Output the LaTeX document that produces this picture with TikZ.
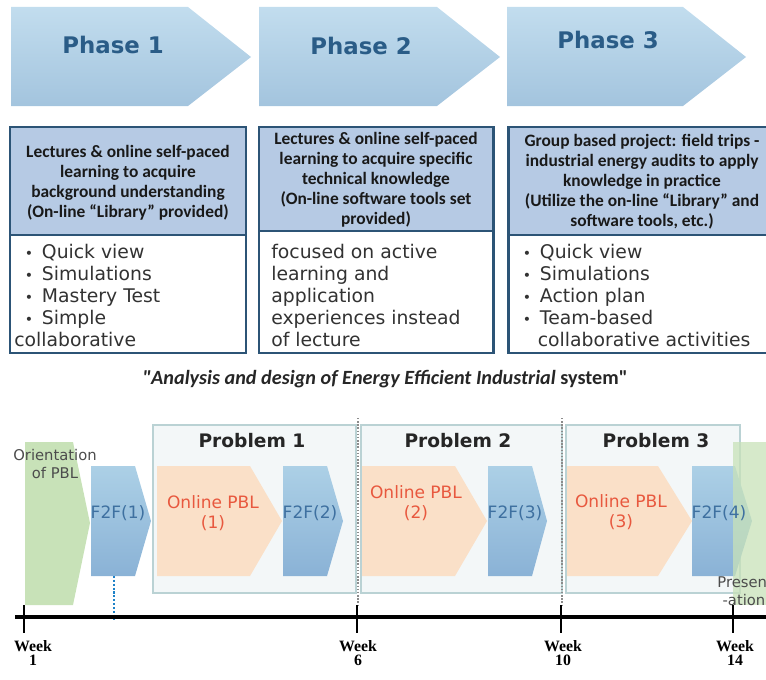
\documentclass[tikz,border=0pt]{standalone}
\usepackage{fontspec}
\setmainfont{DejaVu Sans}
\newfontfamily\calfont{Carlito}
\newfontfamily\weekfont{Liberation Serif}
\usetikzlibrary{positioning}
\definecolor{phasetop}{RGB}{194,221,238}
\definecolor{phasebot}{RGB}{163,196,222}
\definecolor{phasetext}{RGB}{42,92,135}
\definecolor{boxline}{RGB}{44,84,118}
\definecolor{boxhead}{RGB}{182,202,228}
\definecolor{bodytext}{RGB}{50,50,50}
\definecolor{pblgreen}{RGB}{200,226,184}
\definecolor{f2ftop}{RGB}{172,208,230}
\definecolor{f2fbot}{RGB}{138,178,214}
\definecolor{f2ftext}{RGB}{62,112,160}
\definecolor{onlinefill}{RGB}{250,224,200}
\definecolor{onlinetext}{RGB}{232,88,62}
\definecolor{probfill}{RGB}{243,247,248}
\definecolor{probline}{RGB}{186,210,212}
\definecolor{axisdot}{RGB}{30,130,200}
\newcommand{\bul}{{\fontsize{8}{8}\selectfont •}}
\newcommand{\bitem}{\hspace*{6pt}\bul\hspace{5pt}}

\begin{document}
\begin{tikzpicture}[x=0.02cm,y=-0.02cm,
  phase/.style={top color=phasetop,bottom color=phasebot},
  phaselabel/.style={text=phasetext,font=\fontsize{13}{15}\selectfont\bfseries},
  boxframe/.style={draw=boxline,line width=1.7pt},
  headtxt/.style={align=center,font=\calfont\fontsize{9.9}{11.4}\selectfont\bfseries,text=black!90},
  bodytxt/.style={align=left,inner sep=0pt,anchor=north west,text=bodytext,font=\fontsize{10.7}{12.5}\selectfont},
  quote/.style={font=\calfont\fontsize{11.5}{13}\selectfont\bfseries\itshape,text=black!85},
  probbox/.style={fill=probfill,draw=probline,line width=0.6pt},
  problabel/.style={font=\fontsize{10.6}{12}\selectfont\bfseries,text=black!85},
  green/.style={fill=pblgreen},
  f2f/.style={top color=f2ftop,bottom color=f2fbot},
  online/.style={fill=onlinefill},
  f2flabel/.style={text=f2ftext,font=\fontsize{9.7}{11}\selectfont},
  onlinelabel/.style={align=center,text=onlinetext,font=\fontsize{9.7}{11.4}\selectfont},
  graylabel/.style={text=black!70,font=\fontsize{8.4}{10}\selectfont},
  divider/.style={draw=black!45,densely dotted,line width=0.8pt},
  bluedot/.style={draw=axisdot,densely dotted,line width=1.2pt},
  axis/.style={line width=2.2pt},
  weeklabel/.style={align=center,font=\weekfont\fontsize{9}{8}\selectfont\bfseries}]
\useasboundingbox (0,0) rectangle (766,679);

% phases
\shade[phase] (11,7) -- (188,7) -- (251,57) -- (188,106) -- (11,106) -- cycle;
\shade[phase] (259,7) -- (437,7) -- (500,57) -- (437,106) -- (259,106) -- cycle;
\shade[phase] (507,7) -- (683,7) -- (746,57) -- (683,106) -- (507,106) -- cycle;
\node[phaselabel] (ph1) at (113,45) {Phase 1};
\node[phaselabel] (ph2) at (361,46) {Phase 2};
\node[phaselabel] (ph3) at (608,40) {Phase 3};

% boxes
\fill[boxhead] (10,127) rectangle (246,235);
\fill[boxhead] (259,127) rectangle (493,231);
\fill[boxhead] (508,127) rectangle (776,235);
\draw[boxframe] (10,127) rectangle (246,353);
\draw[boxframe] (10,235) -- (246,235);
\draw[boxframe] (259,127) rectangle (493,353);
\draw[boxframe] (259,231) -- (493,231);
\draw[boxframe] (508,127) rectangle (776,353);
\draw[boxframe] (508,235) -- (776,235);

\node[headtxt] (head1) at (128,183) {Lectures \& online self-paced\\learning to acquire\\background understanding\\(On-line “Library” provided)};
\node[headtxt] (head2) at (376,180) {Lectures \& online self-paced\\learning to acquire specific\\technical knowledge\\(On-line software tools set\\provided)};
\node[headtxt] (head3) at (642,182) {Group based project: field trips -\\industrial energy audits to apply\\knowledge in practice\\(Utilize the on-line “Library” and\\software tools, etc.)};

\node[bodytxt] (body1) at (14,244) {\bitem Quick view\\\bitem Simulations\\\bitem Mastery Test\\\bitem Simple\\collaborative};
\node[bodytxt] (body2) at (271,244) {focused on active\\learning and\\application\\experiences instead\\of lecture};
\node[bodytxt] (body3) at (512,244) {\bitem Quick view\\\bitem Simulations\\\bitem Action plan\\\bitem Team-based\\\hspace*{14.5pt}collaborative activities};

\node[quote] (title) at (385,379) {"Analysis and design of Energy Efficient Industrial \upshape system"};

% timeline
\draw[probbox] (153,425) rectangle (356,593);
\draw[probbox] (361,425) rectangle (562,593);
\draw[probbox] (566,425) rectangle (740,593);
\node[problabel] (prob1) at (252,441) {Problem 1};
\node[problabel] (prob2) at (458,441) {Problem 2};
\node[problabel] (prob3) at (656,441) {Problem 3};

\coordinate (div1top) at (358,418);
\coordinate (div1bot) at (358,605);
\coordinate (div2top) at (562,418);
\coordinate (div2bot) at (562,605);
\draw[divider] (div1top) -- (div1bot);
\draw[divider] (div2top) -- (div2bot);

\fill[green] (25,442) -- (73,442) -- (90,523) -- (73,605) -- (25,605) -- cycle;
\shade[f2f] (91,466) -- (135,466) -- (151,521) -- (135,576) -- (91,576) -- cycle;
\fill[online] (157,466) -- (250,466) -- (282,521) -- (250,576) -- (157,576) -- cycle;
\shade[f2f] (283,466) -- (327,466) -- (343,521) -- (327,576) -- (283,576) -- cycle;
\fill[online] (362,466) -- (455,466) -- (487,521) -- (455,576) -- (362,576) -- cycle;
\shade[f2f] (488,466) -- (532,466) -- (547,521) -- (532,576) -- (488,576) -- cycle;
\fill[online] (567,466) -- (658,466) -- (692,521) -- (658,576) -- (567,576) -- cycle;
\shade[f2f] (692,466) -- (735,466) -- (752,521) -- (735,576) -- (692,576) -- cycle;
\fill[green,fill opacity=0.75] (733,442) rectangle (780,605);

\node[graylabel,align=center] (orient) at (55,464) {Orientation\\of PBL};
\node[f2flabel] (f2f1) at (118,513) {F2F(1)};
\node[onlinelabel] (onl1) at (213,513) {Online PBL\\(1)};
\node[f2flabel] (f2f2) at (310,513) {F2F(2)};
\node[onlinelabel] (onl2) at (416,503) {Online PBL\\(2)};
\node[f2flabel] (f2f3) at (515,513) {F2F(3)};
\node[onlinelabel] (onl3) at (621,512) {Online PBL\\(3)};
\node[f2flabel] (f2f4) at (719,513) {F2F(4)};
\node[graylabel,align=left,anchor=west,inner sep=0pt] (present) at (717,591) {Presen\\\hspace*{3pt}-ation};

\coordinate (f2fone) at (114,576);
\coordinate (axone) at (114,620);
\draw[bluedot] (f2fone) -- (axone);

\coordinate (axL) at (15,617);
\coordinate (axR) at (766,617);
\draw[axis] (axL) -- (axR);
\foreach \x/\lx/\w in {24/33/1,357/358/6,561/563/10,733/735/14}{
  \draw[line width=1.6pt] (\x,605) -- (\x,633);
  \node[weeklabel] (wk\w) at (\lx,653) {Week\\\w};
}
\end{tikzpicture}
\end{document}
